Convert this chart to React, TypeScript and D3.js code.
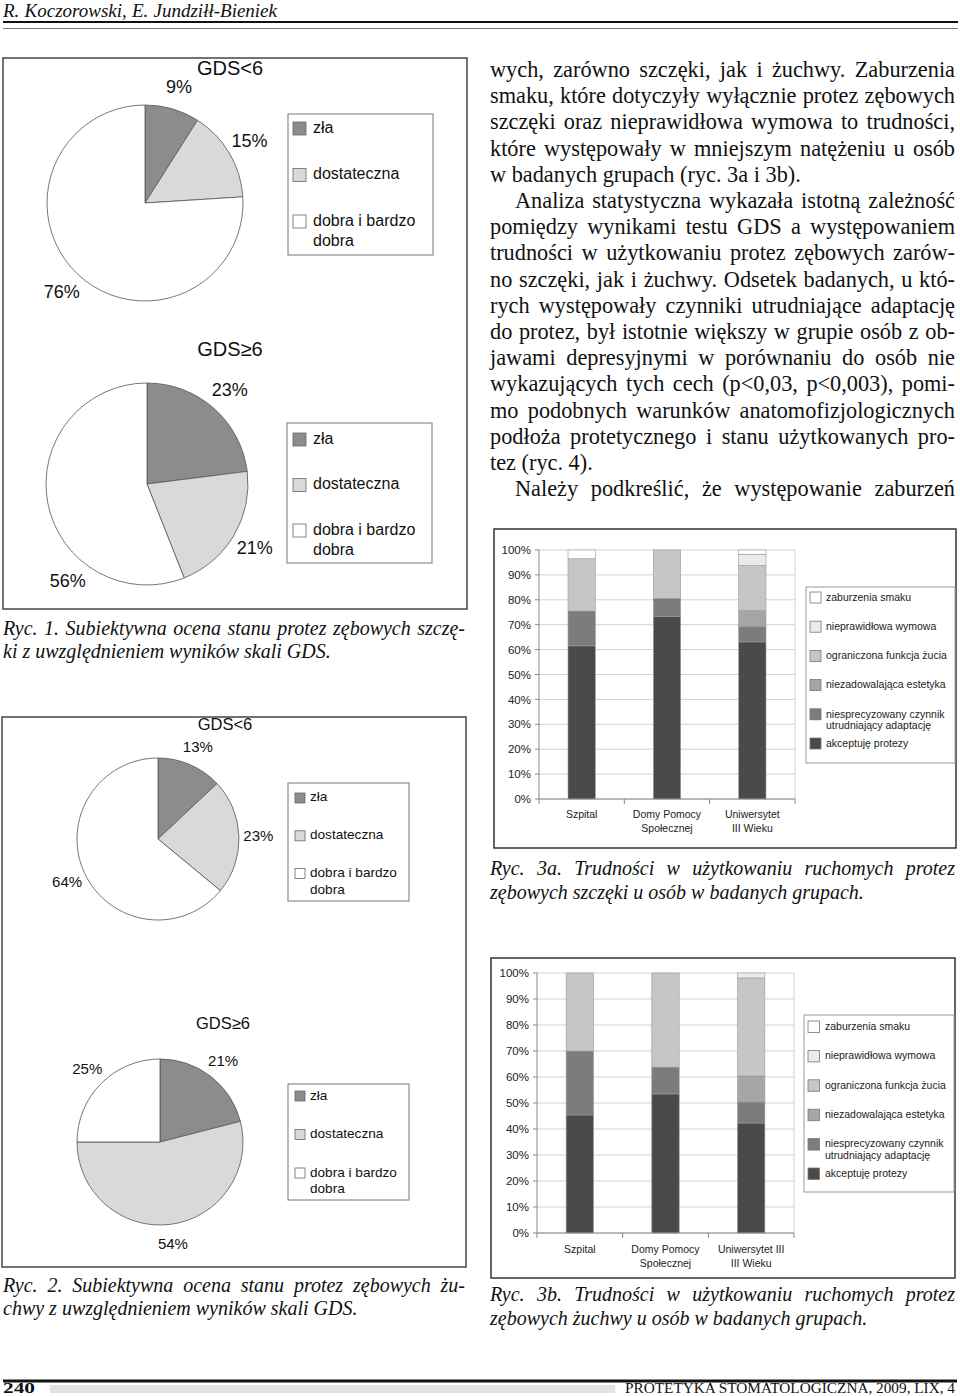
import React from "react";
import * as d3 from "d3";

const SERIF = "'Liberation Serif', 'Times New Roman', serif";
const SANS = "'Liberation Sans', Arial, sans-serif";

// ---------------- DATA ----------------
const headerAuthors = "R. Koczorowski, E. Jundziłł-Bieniek";
const footerPage = "240";
const footerJournal = "PROTETYKA STOMATOLOGICZNA, 2009, LIX, 4";

const pieCategories = [["zła"], ["dostateczna"], ["dobra i bardzo", "dobra"]];
const pieColors = ["#8c8c8c", "#d9d9d9", "#ffffff"];

const maxillaGdsBelow6 = [9, 15, 76];
const maxillaGdsAtLeast6 = [23, 21, 56];
const mandibleGdsBelow6 = [13, 23, 64];
const mandibleGdsAtLeast6 = [21, 54, 25];

const groupsMaxilla = [["Szpital"], ["Domy Pomocy", "Społecznej"], ["Uniwersytet", "III Wieku"]];
const groupsMandible = [["Szpital"], ["Domy Pomocy", "Społecznej"], ["Uniwersytet III", "III Wieku"]];

const difficultyLabels = [
  ["akceptuję protezy"],
  ["niesprecyzowany czynnik", "utrudniający adaptację"],
  ["niezadowalająca estetyka"],
  ["ograniczona funkcja żucia"],
  ["nieprawidłowa wymowa"],
  ["zaburzenia smaku"],
];
const difficultyColors = ["#4a4a4a", "#7c7c7c", "#a6a6a6", "#c6c6c6", "#ebebeb", "#ffffff"];
const percentTicks = [0, 10, 20, 30, 40, 50, 60, 70, 80, 90, 100];

// Ryc. 3a – szczęka (Szpital, DPS, UTW)
const maxAkceptuje = [61.5, 73.2, 63.1];
const maxNiesprecyzowany = [14.0, 7.4, 6.3];
const maxEstetyka = [0, 0, 6.3];
const maxZucie = [21.0, 19.4, 18.0];
const maxWymowa = [0, 0, 4.6];
const maxSmak = [3.5, 0, 1.7];

// Ryc. 3b – żuchwa
const mandAkceptuje = [45.4, 53.5, 42.3];
const mandNiesprecyzowany = [24.6, 10.3, 8.1];
const mandEstetyka = [0, 0, 10.0];
const mandZucie = [30.0, 36.2, 37.7];
const mandWymowa = [0, 0, 1.9];
const mandSmak = [0, 0, 0];

const bodyLines = [
  { t: "wych, zarówno szczęki, jak i żuchwy. Zaburzenia", indent: false, j: true },
  { t: "smaku, które dotyczyły wyłącznie protez zębowych", indent: false, j: true },
  { t: "szczęki oraz nieprawidłowa wymowa to trudności,", indent: false, j: true },
  { t: "które występowały w mniejszym natężeniu u osób", indent: false, j: true },
  { t: "w badanych grupach (ryc. 3a i 3b).", indent: false, j: false },
  { t: "Analiza statystyczna wykazała istotną zależność", indent: true, j: true },
  { t: "pomiędzy wynikami testu GDS a występowaniem", indent: false, j: true },
  { t: "trudności w użytkowaniu protez zębowych zarów-", indent: false, j: true },
  { t: "no szczęki, jak i żuchwy. Odsetek badanych, u któ-", indent: false, j: true },
  { t: "rych występowały czynniki utrudniające adaptację", indent: false, j: true },
  { t: "do protez, był istotnie większy w grupie osób z ob-", indent: false, j: true },
  { t: "jawami depresyjnymi w porównaniu do osób nie", indent: false, j: true },
  { t: "wykazujących tych cech (p<0,03, p<0,003), pomi-", indent: false, j: true },
  { t: "mo podobnych warunków anatomofizjologicznych", indent: false, j: true },
  { t: "podłoża protetycznego i stanu użytkowanych pro-", indent: false, j: true },
  { t: "tez (ryc. 4).", indent: false, j: false },
  { t: "Należy podkreślić, że występowanie zaburzeń", indent: true, j: true },
];

const caption1 = ["Ryc. 1. Subiektywna ocena stanu protez zębowych szczę-", "ki z uwzględnieniem wyników skali GDS."];
const caption2 = ["Ryc. 2. Subiektywna ocena stanu protez zębowych żu-", "chwy z uwzględnieniem wyników skali GDS."];
const caption3a = ["Ryc. 3a. Trudności w użytkowaniu ruchomych protez", "zębowych szczęki u osób w badanych grupach."];
const caption3b = ["Ryc. 3b. Trudności w użytkowaniu ruchomych protez", "zębowych żuchwy u osób w badanych grupach."];

// ---------------- HELPERS ----------------
let ctx: any = null;
function measure(s: string, font: string): number {
  if (!ctx) ctx = document.createElement("canvas").getContext("2d");
  ctx.font = font;
  return ctx.measureText(s).width;
}

function TextLine({ text, x0, x1, y, size, italic = false, justify = true, family = SERIF, fill = "#111" }: any) {
  const font = `${italic ? "italic " : ""}${size}px ${family}`;
  const words = text.split(" ");
  const widths = words.map((w: string) => measure(w, font));
  const total = d3.sum(widths);
  const space = measure(" ", font);
  const gap = justify && words.length > 1 ? (x1 - x0 - total) / (words.length - 1) : space;
  let x = x0;
  const xs = widths.map((w: number) => {
    const c = x;
    x += w + gap;
    return c;
  });
  return (
    <text y={y} fontSize={size} fontFamily={family} fontStyle={italic ? "italic" : "normal"} fill={fill}>
      {words.map((w: string, i: number) => (
        <tspan key={i} x={xs[i]}>
          {w}
        </tspan>
      ))}
    </text>
  );
}

function PieChart({ cx, cy, r, values, title, titleX, titleY, titleSize, labelSize, labelShift = [0, 0, 0], legend }: any) {
  const arcs = d3.pie<number>().sort(null).value((d) => d)(values);
  const arcGen = d3.arc<d3.PieArcDatum<number>>().innerRadius(0).outerRadius(r);
  const lr = r * 1.24;
  return (
    <g>
      <text x={titleX} y={titleY} textAnchor="middle" fontFamily={SANS} fontSize={titleSize} fill="#111">
        {title}
      </text>
      <g transform={`translate(${cx},${cy})`}>
        {arcs.map((a, i) => (
          <path key={i} d={arcGen(a) || ""} fill={pieColors[i]} stroke="#555" strokeWidth={0.8} />
        ))}
      </g>
      {arcs.map((a, i) => {
        const ang = (a.startAngle + a.endAngle) / 2 + (labelShift[i] * Math.PI) / 180;
        return (
          <text
            key={i}
            x={cx + Math.sin(ang) * lr}
            y={cy - Math.cos(ang) * lr}
            dy="0.35em"
            textAnchor="middle"
            fontFamily={SANS}
            fontSize={labelSize}
            fill="#111"
          >
            {`${values[i]}%`}
          </text>
        );
      })}
      <rect x={legend.x} y={legend.y} width={legend.w} height={legend.h} fill="#fff" stroke="#777" strokeWidth={1} />
      {pieCategories.map((lines, i) => {
        const top = legend.firstTop + i * legend.step;
        return (
          <g key={i}>
            <rect x={legend.swX} y={top} width={legend.sw} height={legend.sw} fill={pieColors[i]} stroke="#666" strokeWidth={0.8} />
            {lines.map((ln, k) => (
              <text key={k} x={legend.textX} y={top + legend.baseOff + k * legend.line2} fontFamily={SANS} fontSize={legend.size} fill="#111">
                {ln}
              </text>
            ))}
          </g>
        );
      })}
    </g>
  );
}

function StackedBars({ box, plot, groups, series, legend }: any) {
  const idx = groups.map((_: any, i: number) => i);
  const x = d3.scaleBand<number>().domain(idx).range([plot.x0, plot.x1]).paddingInner(0.68).paddingOuter(0.34);
  const y = d3.scaleLinear().domain([0, 100]).range([plot.y1, plot.y0]);
  const keys = difficultyLabels.map((_, k) => `s${k}`);
  const rows = idx.map((i: number) => {
    const o: any = {};
    keys.forEach((k, s) => (o[k] = series[s][i]));
    return o;
  });
  const stacked = d3.stack<any>().keys(keys)(rows);
  const step = x.step();
  const bounds = d3.range(groups.length + 1).map((i) => plot.x0 + i * step);
  return (
    <g>
      <rect x={box.x} y={box.y} width={box.w} height={box.h} fill="#fff" stroke="#333" strokeWidth={1.5} />
      {percentTicks.map((t) => (
        <line key={t} x1={plot.x0} x2={plot.x1} y1={y(t)} y2={y(t)} stroke="#d2d2d2" strokeWidth={1} />
      ))}
      <line x1={plot.x1} x2={plot.x1} y1={plot.y0} y2={plot.y1} stroke="#d2d2d2" strokeWidth={1} />
      {stacked.map((layer, s) =>
        layer.map((d: any, i: number) => {
          const h = y(d[0]) - y(d[1]);
          if (h < 0.05) return null;
          return (
            <rect
              key={`${s}-${i}`}
              x={x(i)}
              y={y(d[1])}
              width={x.bandwidth()}
              height={h}
              fill={difficultyColors[s]}
              stroke="#9a9a9a"
              strokeWidth={0.6}
            />
          );
        })
      )}
      <line x1={plot.x0} x2={plot.x0} y1={plot.y0} y2={plot.y1} stroke="#888" strokeWidth={1} />
      <line x1={plot.x0} x2={plot.x1} y1={plot.y1} y2={plot.y1} stroke="#888" strokeWidth={1} />
      {percentTicks.map((t) => (
        <g key={t}>
          <line x1={plot.x0 - 4} x2={plot.x0} y1={y(t)} y2={y(t)} stroke="#888" />
          <text x={plot.x0 - 8} y={y(t)} dy="0.36em" textAnchor="end" fontFamily={SANS} fontSize={11.5} fill="#222">
            {`${t}%`}
          </text>
        </g>
      ))}
      {bounds.map((bx: number, i: number) => (
        <line key={i} x1={bx} x2={bx} y1={plot.y1} y2={plot.y1 + 5} stroke="#888" />
      ))}
      {groups.map((lines: string[], i: number) =>
        lines.map((ln, k) => (
          <text
            key={`${i}-${k}`}
            x={(x(i) as number) + x.bandwidth() / 2}
            y={plot.y1 + plot.catOff + k * 14}
            textAnchor="middle"
            fontFamily={SANS}
            fontSize={10.5}
            fill="#222"
          >
            {ln}
          </text>
        ))
      )}
      <rect x={legend.x} y={legend.y} width={legend.w} height={legend.h} fill="#fff" stroke="#999" strokeWidth={1} />
      {difficultyLabels
        .map((lines, s) => ({ lines, s }))
        .reverse()
        .map(({ lines, s }, pos) => {
          const top = legend.firstTop + pos * legend.step;
          return (
            <g key={s}>
              <rect x={legend.swX} y={top} width={legend.sw} height={legend.sw} fill={difficultyColors[s]} stroke="#777" strokeWidth={0.8} />
              {lines.map((ln, k) => (
                <text key={k} x={legend.textX} y={top + 8.8 + k * 11.6} fontFamily={SANS} fontSize={10.5} fill="#222">
                  {ln}
                </text>
              ))}
            </g>
          );
        })}
    </g>
  );
}

export default function App() {
  const bodyX0 = 490;
  const bodyX1 = 955;
  return (
    <svg width={960} height={1396} viewBox="0 0 960 1396" style={{ position: "absolute", left: 0, top: 0, background: "#fff" }}>
      <rect x={0} y={0} width={960} height={1396} fill="#fff" />
      {/* header */}
      <TextLine text={headerAuthors} x0={3} x1={277} y={16.5} size={19} italic justify={true} />
      <line x1={3} x2={958} y1={22} y2={22} stroke="#111" strokeWidth={2} />
      <line x1={3} x2={958} y1={28.5} y2={28.5} stroke="#777" strokeWidth={1} />

      {/* Figure 1 */}
      <rect x={3} y={58} width={464} height={551} fill="#fff" stroke="#444" strokeWidth={1.5} />
      <PieChart
        cx={145}
        cy={203}
        r={98}
        values={maxillaGdsBelow6}
        title="GDS<6"
        titleX={230}
        titleY={75}
        titleSize={20}
        labelSize={18}
        legend={{ x: 288, y: 114, w: 145, h: 141, swX: 293, sw: 13, firstTop: 122, step: 46.5, textX: 313, baseOff: 10.5, line2: 20, size: 16 }}
      />
      <PieChart
        cx={147}
        cy={484}
        r={101}
        values={maxillaGdsAtLeast6}
        title="GDS≥6"
        titleX={230}
        titleY={356}
        titleSize={20}
        labelSize={18}
        labelShift={[0, 0, -40]}
        legend={{ x: 287, y: 423, w: 145, h: 140, swX: 293, sw: 13, firstTop: 433, step: 45.5, textX: 313, baseOff: 10.5, line2: 20, size: 16 }}
      />
      {caption1.map((c, i) => (
        <TextLine key={i} text={c} x0={3} x1={465} y={635 + i * 23} size={20} italic justify={i === 0} />
      ))}

      {/* Figure 2 */}
      <rect x={2} y={717} width={464} height={550} fill="#fff" stroke="#444" strokeWidth={1.5} />
      <PieChart
        cx={158}
        cy={839}
        r={81}
        values={mandibleGdsBelow6}
        title="GDS<6"
        titleX={225}
        titleY={730}
        titleSize={16.5}
        labelSize={15}
        legend={{ x: 288, y: 783, w: 121, h: 118, swX: 295, sw: 10, firstTop: 793, step: 37.8, textX: 310, baseOff: 8.3, line2: 17, size: 13.6 }}
      />
      <PieChart
        cx={160}
        cy={1142}
        r={83}
        values={mandibleGdsAtLeast6}
        title="GDS≥6"
        titleX={223}
        titleY={1029}
        titleSize={16.5}
        labelSize={15}
        legend={{ x: 288, y: 1084, w: 121, h: 116, swX: 295, sw: 10, firstTop: 1091, step: 38.5, textX: 310, baseOff: 8.5, line2: 16.5, size: 13.6 }}
      />
      {caption2.map((c, i) => (
        <TextLine key={i} text={c} x0={3} x1={465} y={1292 + i * 23} size={20} italic justify={i === 0} />
      ))}

      {/* Body text */}
      {bodyLines.map((l, i) => (
        <TextLine key={i} text={l.t} x0={l.indent ? 515 : bodyX0} x1={bodyX1} y={77 + i * 26.2} size={22.3} justify={l.j} />
      ))}

      {/* Figure 3a */}
      <StackedBars
        box={{ x: 494, y: 529, w: 462, h: 319 }}
        plot={{ x0: 539, x1: 795, y0: 550, y1: 799, catOff: 19 }}
        groups={groupsMaxilla}
        series={[maxAkceptuje, maxNiesprecyzowany, maxEstetyka, maxZucie, maxWymowa, maxSmak]}
        legend={{ x: 806, y: 587, w: 149, h: 176, swX: 810, sw: 11, firstTop: 592, step: 29.2, textX: 826 }}
      />
      {caption3a.map((c, i) => (
        <TextLine key={i} text={c} x0={490} x1={955} y={875 + i * 24} size={20} italic justify={i === 0} />
      ))}

      {/* Figure 3b */}
      <StackedBars
        box={{ x: 491, y: 958, w: 464, h: 320 }}
        plot={{ x0: 537, x1: 794, y0: 973, y1: 1233, catOff: 20 }}
        groups={groupsMandible}
        series={[mandAkceptuje, mandNiesprecyzowany, mandEstetyka, mandZucie, mandWymowa, mandSmak]}
        legend={{ x: 804, y: 1015, w: 150, h: 177, swX: 808, sw: 11.5, firstTop: 1021, step: 29.4, textX: 825 }}
      />
      {caption3b.map((c, i) => (
        <TextLine key={i} text={c} x0={490} x1={955} y={1301 + i * 24} size={20} italic justify={i === 0} />
      ))}

      {/* footer */}
      <line x1={3} x2={957} y1={1381} y2={1381} stroke="#111" strokeWidth={3} />
      <text x={3} y={1393} fontFamily={SERIF} fontWeight="bold" fontSize={14.5} textLength={32} lengthAdjust="spacingAndGlyphs" fill="#111">
        {footerPage}
      </text>
      <rect x={50} y={1385} width={565} height={8} fill="#e3e3e3" />
      <text x={625} y={1393} fontFamily={SERIF} fontSize={14.5} textLength={330} lengthAdjust="spacingAndGlyphs" fill="#111">
        {footerJournal}
      </text>
    </svg>
  );
}
